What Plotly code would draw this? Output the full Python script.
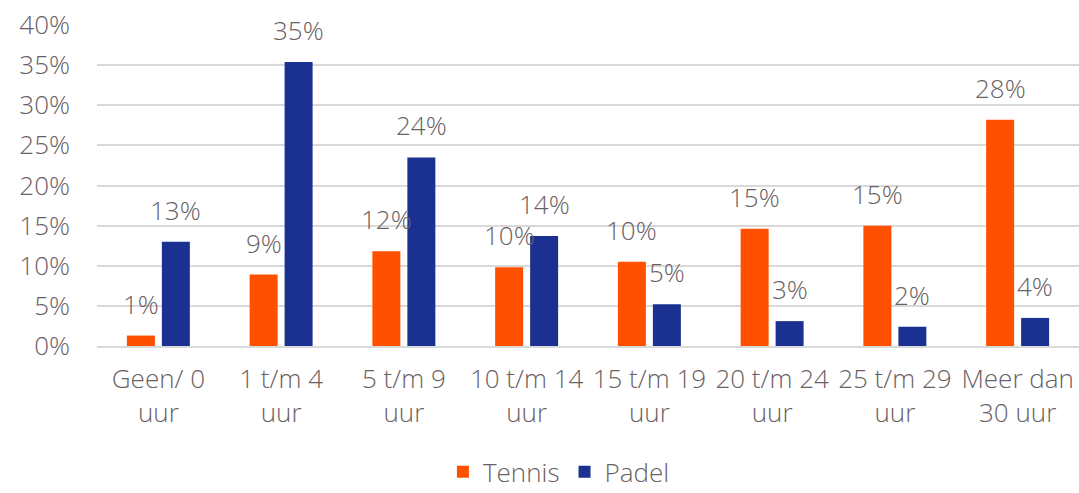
import plotly.graph_objects as go

categories = ["Geen/ 0<br>uur", "1 t/m 4<br>uur", "5 t/m 9<br>uur", "10 t/m 14<br>uur",
              "15 t/m 19<br>uur", "20 t/m 24<br>uur", "25 t/m 29<br>uur", "Meer dan<br>30 uur"]
tennis = [1.3, 8.9, 11.8, 9.8, 10.5, 14.6, 15.0, 28.2]
padel = [13.0, 35.4, 23.5, 13.7, 5.2, 3.1, 2.4, 3.5]
tick_vals = [0, 5, 10, 15, 20, 25, 30, 35, 40]
tick_text = ["0%", "5%", "10%", "15%", "20%", "25%", "30%", "35%", "40%"]

TXT = "#6B5F63"
FONT = "Open Sans"
FS = 26
W = 300
ORANGE = "#FF5000"
BLUE = "#1B3191"

fig = go.Figure()
fig.add_bar(x=categories, y=tennis, name="Tennis", marker=dict(color=ORANGE, line=dict(width=0)))
fig.add_bar(x=categories, y=padel, name="Padel", marker=dict(color=BLUE, line=dict(width=0)))

annotations = []
for series, shift in ((tennis, -17.5), (padel, 17.5)):
    for c, v in zip(categories, series):
        annotations.append(dict(x=c, y=v, xref="x", yref="y", text=f"{round(v):d}%",
                                showarrow=False, xshift=shift, yshift=12, yanchor="bottom",
                                font=dict(family=FONT, size=FS, color=TXT, weight=W)))

fig.update_layout(
    width=1079, height=493,
    margin=dict(l=97, r=0, t=25, b=147, autoexpand=False),
    paper_bgcolor="white", plot_bgcolor="white",
    barmode="group", bargap=0.43, bargroupgap=0.2,
    font=dict(family=FONT, size=FS, color=TXT, weight=W),
    showlegend=True,
    legend=dict(orientation="h", x=0.518, xanchor="center", xref="container",
                y=0.043, yanchor="middle", yref="container",
                font=dict(family=FONT, size=FS, color=TXT, weight=W), itemwidth=30,
                traceorder="normal"),
    annotations=annotations,
    xaxis=dict(showgrid=False, showline=True, linecolor="#D9D9D9", linewidth=2,
               ticks="", ticklabelstandoff=9,
               tickfont=dict(family=FONT, size=FS, color=TXT, weight=W)),
    yaxis=dict(range=[0, 40], tickmode="array", tickvals=tick_vals, ticktext=tick_text,
               showgrid=True, gridcolor="#D9D9D9", gridwidth=2, zeroline=False, showline=False,
               ticks="", ticklabelstandoff=26,
               tickfont=dict(family=FONT, size=FS, color=TXT, weight=W)),
)

fig.write_html("out.html", config={"displayModeBar": False},
               post_script="document.body.style.margin='0';document.body.style.overflow='hidden';")
